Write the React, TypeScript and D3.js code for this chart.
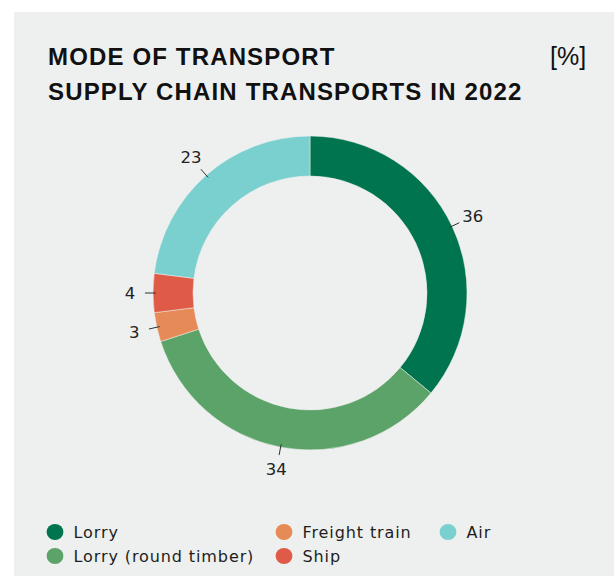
import React from "react";
import { pie, arc, scaleOrdinal } from "d3";

const categories = ["Lorry", "Lorry (round timber)", "Freight train", "Ship", "Air"];
const values = [36, 34, 3, 4, 23];
const colors = ["#00744f", "#5ca36a", "#e68b57", "#df5b47", "#79d0cf"];
const titleLines = ["MODE OF TRANSPORT", "SUPPLY CHAIN TRANSPORTS IN 2022"];
const unitLabel = "[%]";
// legend order as in the picture (row by row)
const legendRows = [
  ["Lorry", "Freight train", "Air"],
  ["Lorry (round timber)", "Ship"],
];

const W = 614;
const H = 576;
const cx = 310;
const cy = 293;
const outerR = 157;
const innerR = 117;

export default function App() {
  const color = scaleOrdinal<string, string>().domain(categories).range(colors);
  const data = categories.map((c, i) => ({ name: c, value: values[i] }));

  const slices = pie<{ name: string; value: number }>()
    .value((d) => d.value)
    .sort(null)(data);

  const ringArc = arc<any>().innerRadius(innerR).outerRadius(outerR);
  const tickIn = arc<any>().innerRadius(154).outerRadius(154);
  const tickOut = arc<any>().innerRadius(165).outerRadius(165);
  const labelArc = arc<any>().innerRadius(180).outerRadius(180);

  const legendCols = [55, 284, 448];
  const legendY = [532, 556];

  return (
    <svg
      width={W}
      height={H}
      style={{ position: "absolute", left: 0, top: 0, display: "block" }}
      fontFamily="'DejaVu Sans', sans-serif"
    >
      <rect x={0} y={0} width={W} height={H} fill="#ffffff" />
      <rect x={14} y={12} width={W - 14} height={H - 12} fill="#eef0ef" />

      <g fontFamily="'Liberation Sans', Arial, sans-serif" fill="#111">
        {titleLines.map((t, i) => (
          <text
            key={t}
            x={48}
            y={65 + i * 35}
            fontSize={24}
            fontWeight="bold"
            letterSpacing={1.15}
          >
            {t}
          </text>
        ))}
        <text x={550} y={65} fontSize={25}>
          {unitLabel}
        </text>
      </g>

      <g transform={`translate(${cx},${cy})`}>
        {slices.map((s) => (
          <path
            key={s.data.name}
            d={ringArc(s) as string}
            fill={color(s.data.name)}
            stroke="#eef0ef"
            strokeWidth={0.5}
          />
        ))}
        {slices.map((s) => {
          const [x1, y1] = tickIn.centroid(s);
          const [x2, y2] = tickOut.centroid(s);
          const [lx, ly] = labelArc.centroid(s);
          return (
            <g key={"l" + s.data.name}>
              <line x1={x1} y1={y1} x2={x2} y2={y2} stroke="#333" strokeWidth={1} />
              <text
                x={lx}
                y={ly}
                textAnchor="middle"
                dominantBaseline="central"
                fontSize={16.5}
                fill="#222"
              >
                {s.data.value}
              </text>
            </g>
          );
        })}
      </g>

      <g>
        {legendRows.map((row, r) =>
          row.map((name, c) => (
            <g key={name} transform={`translate(${legendCols[c]},${legendY[r]})`}>
              <ellipse rx={8.4} ry={8} fill={color(name)} />
              <text
                x={18.5}
                y={0}
                dominantBaseline="central"
                fontSize={16}
                letterSpacing={0.9}
                fill="#1e1e1e"
              >
                {name}
              </text>
            </g>
          ))
        )}
      </g>
    </svg>
  );
}
